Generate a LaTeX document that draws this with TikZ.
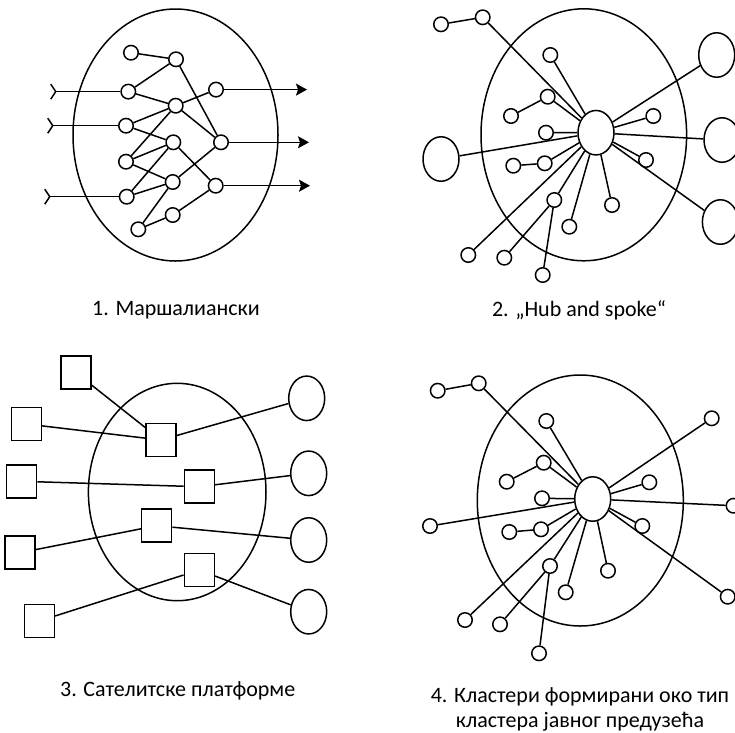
\documentclass[tikz,border=0pt]{standalone}
\usepackage{fontspec}
\setmainfont{Carlito}
\usepackage{tikz}
\usetikzlibrary{arrows.meta,shapes.geometric}

\begin{document}
\begin{tikzpicture}[x=1pt,y=-1pt,line width=1.5pt,
	dot/.style={circle,draw,fill=white,minimum size=14.5pt,inner sep=0pt},
	hub/.style={ellipse,draw,fill=white,minimum width=36pt,minimum height=44.5pt,inner sep=0pt},
	box/.style={rectangle,draw,fill=white,minimum width=30pt,minimum height=33pt,inner sep=0pt},
	caption/.style={font=\fontsize{22}{25}\selectfont,align=center}]
		\useasboundingbox (0,0) rectangle (735,732);

		\draw (175.5,135) ellipse [x radius=102.5pt, y radius=126pt];
		\node[dot] (a) at (131,52.7) {};
		\node[dot] (b) at (176,59.3) {};
		\node[dot] (c) at (128.3,91.6) {};
		\node[dot] (d) at (175.7,105.7) {};
		\node[dot] (e) at (216,89.6) {};
		\node[dot] (f) at (126,125.7) {};
		\node[dot] (g) at (173.3,142.3) {};
		\node[dot] (h) at (221,142.3) {};
		\node[dot] (i) at (126,161.7) {};
		\node[dot] (j) at (172.7,182) {};
		\node[dot] (k) at (126.7,196.7) {};
		\node[dot] (l) at (215.7,185.7) {};
		\node[dot] (m) at (172.7,215) {};
		\node[dot] (n) at (138.3,229.3) {};
		\coordinate (in1) at (50,91.6);
		\coordinate (in2) at (47,125.7);
		\coordinate (in3) at (44,196.7);
		\coordinate (out1) at (307,89.6);
		\coordinate (out2) at (309,142.3);
		\coordinate (out3) at (310,185.7);
		\draw (a) -- (b) (b) -- (c) (b) -- (h) (c) -- (d) (d) -- (e) (d) -- (f)
			(d) -- (i) (d) -- (h) (f) -- (g) (i) -- (g) (i) -- (j) (k) -- (g)
			(k) -- (j) (g) -- (l) (j) -- (h) (j) -- (n) (n) -- (m) (m) -- (l);
		\draw [{Straight Barb[reversed,length=5pt,width=15pt]}-] (in1) -- (c);
		\draw [{Straight Barb[reversed,length=5pt,width=15pt]}-] (in2) -- (f);
		\draw [{Straight Barb[reversed,length=5pt,width=15pt]}-] (in3) -- (k);
		\draw [-{Stealth[length=11pt,width=12pt,inset=2pt]}] (e) -- (out1);
		\draw [-{Stealth[length=11pt,width=12pt,inset=2pt]}] (h) -- (out2);
		\draw [-{Stealth[length=11pt,width=12pt,inset=2pt]}] (l) -- (out3);
		\node[caption] (t1) at (176,310) {1. Маршалиански};

		\draw (583.8,134.8) ellipse [x radius=102.8pt, y radius=126pt];
		\node[hub] (hub2) at (596,132.7) {};
		\node[dot] (p1) at (441,24.3) {};
		\node[dot] (p2) at (482.7,17.3) {};
		\node[dot] (p3) at (550.3,55) {};
		\node[dot] (p4) at (547.7,96.7) {};
		\node[dot] (p5) at (511,116) {};
		\node[dot] (p6) at (546,132.7) {};
		\node[dot] (p7) at (653.3,116) {};
		\node[dot] (p8) at (646,160) {};
		\node[dot] (p9) at (544.7,163.3) {};
		\node[dot] (p10) at (513.3,165.7) {};
		\node[dot] (p11) at (554.3,200) {};
		\node[dot] (p12) at (504.3,257.7) {};
		\node[dot] (p13) at (542.7,275) {};
		\node[dot] (p14) at (468.3,255) {};
		\node[dot] (p15) at (569.3,226.7) {};
		\node[dot] (p16) at (612,205) {};
		\node[hub] (bigL) at (441,159) {};
		\node[hub] (bigR1) at (716.7,55) {};
		\node[hub] (bigR2) at (722,140) {};
		\node[hub] (bigR3) at (720.4,222) {};
		\draw (p1) -- (p2) (p5) -- (p4) (p10) -- (p9) (p12) -- (p11) (p13) -- (p11);
		\draw (hub2) -- (p2) (hub2) -- (p3) (hub2) -- (p4) (hub2) -- (p6)
			(hub2) -- (p7) (hub2) -- (p8) (hub2) -- (p9) (hub2) -- (p11)
			(hub2) -- (p14) (hub2) -- (p15) (hub2) -- (p16) (hub2) -- (bigL)
			(hub2) -- (bigR1) (hub2) -- (bigR2) (hub2) -- (bigR3);
		\node[caption] (t2) at (579,310) {2. „Hub and spoke“};

		\draw (177.2,492) ellipse [x radius=88.8pt, y radius=108.7pt];
		\node[box] (s1) at (76,372.7) {};
		\node[box] (s2) at (26.3,424) {};
		\node[box] (s3) at (21.7,481.3) {};
		\node[box] (s4) at (20,552.7) {};
		\node[box] (s5) at (39.3,621) {};
		\node[box] (u1) at (161,440) {};
		\node[box] (u2) at (199.3,486.7) {};
		\node[box] (u3) at (156.7,525.7) {};
		\node[box] (u4) at (199.3,570) {};
		\node[hub] (o1) at (306.7,398.3) {};
		\node[hub] (o2) at (308.7,473.3) {};
		\node[hub] (o3) at (308.7,540) {};
		\node[hub] (o4) at (308.7,611.7) {};
		\draw (s1) -- (u1) (s2) -- (u1) (u1) -- (o1);
		\draw (s3) -- (u2) (u2) -- (o2);
		\draw (s4) -- (u3) (u3) -- (o3);
		\draw (s5) -- (u4) (u4) -- (o4);
		\node[caption] (t3) at (177.7,691) {3. Сателитске платформе};

		\draw (580.3,500.5) ellipse [x radius=103pt, y radius=125.5pt];
		\node[hub] (hub4) at (592.7,499) {};
		\node[dot] (q1) at (437.7,390.7) {};
		\node[dot] (q2) at (478.7,383.3) {};
		\node[dot] (q3) at (546.3,421) {};
		\node[dot] (q4) at (543.7,462.7) {};
		\node[dot] (q5) at (506.7,481.7) {};
		\node[dot] (q6) at (542,498.3) {};
		\node[dot] (q7) at (649.3,482.3) {};
		\node[dot] (q8) at (642.3,526) {};
		\node[dot] (q9) at (541,529.3) {};
		\node[dot] (q10) at (509.3,532) {};
		\node[dot] (q11) at (550,566) {};
		\node[dot] (q12) at (500,624.3) {};
		\node[dot] (q13) at (539,653.3) {};
		\node[dot] (q14) at (465,620) {};
		\node[dot] (q15) at (565.7,592.3) {};
		\node[dot] (q16) at (608,570.7) {};
		\node[dot] (q17) at (430,526) {};
		\node[dot] (q18) at (711.7,418.3) {};
		\node[dot] (q19) at (733.5,505.7) {};
		\node[dot] (q20) at (727.7,596.7) {};
		\draw (q1) -- (q2) (q5) -- (q4) (q10) -- (q9) (q12) -- (q11) (q13) -- (q11);
		\draw (hub4) -- (q2) (hub4) -- (q3) (hub4) -- (q4) (hub4) -- (q6)
			(hub4) -- (q7) (hub4) -- (q8) (hub4) -- (q9) (hub4) -- (q11)
			(hub4) -- (q14) (hub4) -- (q15) (hub4) -- (q16) (hub4) -- (q17)
			(hub4) -- (q18) (hub4) -- (q19) (hub4) -- (q20);
		\node[caption] (t4) at (580,709) {4. Кластери формирани око тип\\кластера јавног предузећа};
	\end{tikzpicture}
\end{document}
